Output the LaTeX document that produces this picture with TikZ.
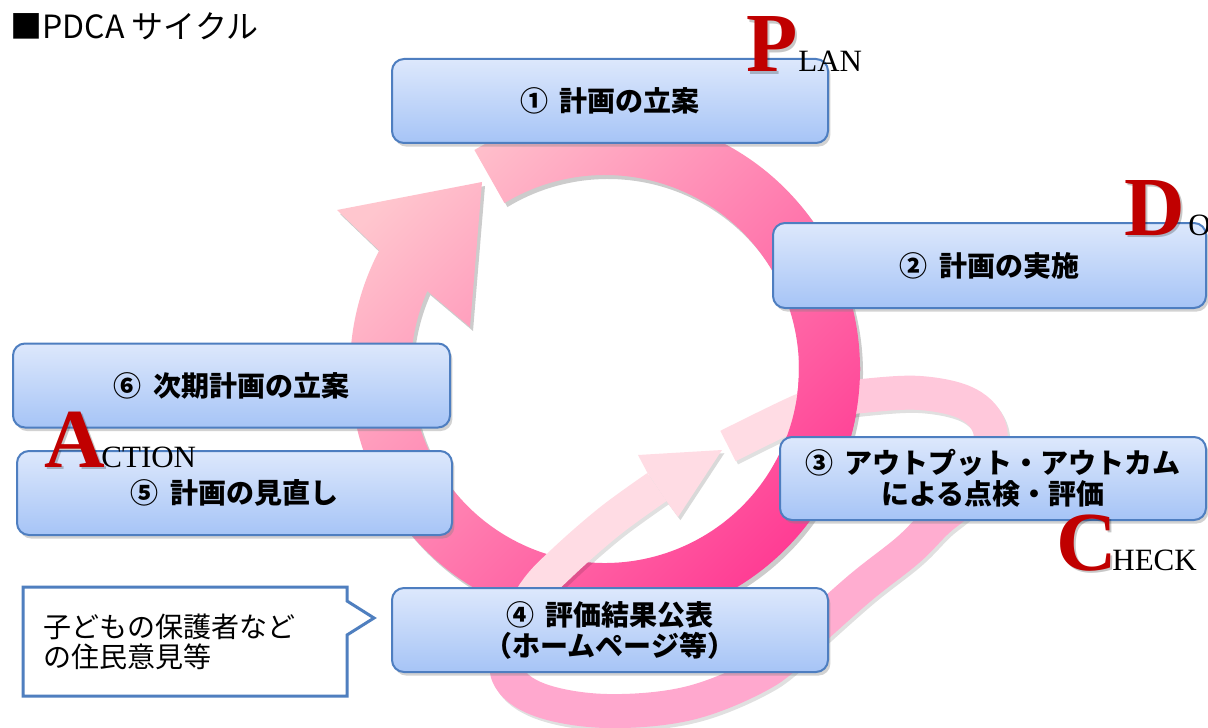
\documentclass[tikz,border=0pt]{standalone}
\usepackage{fontspec}
\newfontfamily\jpfont{Noto Sans CJK JP}
\newfontfamily\pdcafont{Liberation Serif}
\usetikzlibrary{shadows}
\definecolor{boxtop}{HTML}{DDE8FC}
\definecolor{boxbot}{HTML}{A6C4F6}
\definecolor{boxline}{HTML}{4E7EC0}
\definecolor{ringlight}{HTML}{FFC6CE}
\definecolor{ringdark}{HTML}{FF3390}
\definecolor{loopA}{HTML}{FFDCE4}
\definecolor{loopB}{HTML}{FFC8DB}
\definecolor{loopC}{HTML}{FFADD0}
\definecolor{loopD}{HTML}{FFA8CE}
\definecolor{pdcared}{HTML}{C00000}
\definecolor{callline}{HTML}{4F7FBF}
\tikzset{
  stepbox/.style={draw=boxline, line width=1pt, rounded corners=6pt,
    top color=boxtop, bottom color=boxbot,
    minimum width=218pt, minimum height=42pt, align=center, inner sep=0pt,
    font=\jpfont\bfseries\fontsize{14}{15.5}\selectfont,
    drop shadow={shadow xshift=1.2pt, shadow yshift=-1.8pt, opacity=0.35}},
  bigletter/.style={font=\pdcafont\bfseries\fontsize{42}{42}\selectfont,
    text=pdcared, inner sep=0pt, anchor=base west},
  lettershade/.style={bigletter, text=black, text opacity=0.22, xshift=1.2pt, yshift=-1.4pt},
  smallletters/.style={font=\pdcafont\fontsize{15.5}{16}\selectfont,
    inner sep=0pt, anchor=base west},
  loopband/.style={line width=17pt, line cap=butt, line join=round},
  loopshadow/.style={loopband, black, opacity=0.12, xshift=1.2pt, yshift=-1.6pt},
}
\def\ringpath{(474.4,150) arc[start angle=-120.8, end angle=207.7, radius=255]
  -- (337,210) -- (482,182) -- (470,327) -- (427.3,291)
  arc[start angle=203.7, end angle=-121.2, radius=194] -- cycle}
\def\segA{(728,446) (800,411) (832,401)}
\def\segB{(832,401) (862,396) (920,393) (968,404) (990,430) (985,470)}
\def\segC{(985,470) (962,500) (937,521) (908,550) (860,588) (805,637)}
\def\segD{(805,637) (765,672) (690,703) (607,711) (540,700) (508,675) (512,635)}
\def\segE{(512,635) (535,592) (563,562) (610,521) (657,487)}
\def\loophead{(647,472) -- (638,455) -- (722,450) -- (678,517) -- (667,502) -- cycle}
\begin{document}
\begin{tikzpicture}[x=0.5pt, y=-0.5pt]
\useasboundingbox (0,0) rectangle (1208,727);
\fill[white] (0,0) rectangle (1208,727);

% main cycle ring
\fill[black, opacity=0.2, xshift=1.5pt, yshift=-2pt] \ringpath;
\shade[top color=ringlight, bottom color=ringdark, shading angle=45] \ringpath;

% secondary loop
\foreach \s in {\segA,\segB,\segC,\segD,\segE}{
  \draw[loopshadow] plot[smooth, tension=0.6] coordinates {\s};
}
\fill[black, opacity=0.15, xshift=1.2pt, yshift=-1.6pt] \loophead;
\draw[loopband, loopA] plot[smooth, tension=0.6] coordinates {\segA};
\draw[loopband, loopB] plot[smooth, tension=0.6] coordinates {\segB};
\draw[loopband, loopC] plot[smooth, tension=0.6] coordinates {\segC};
\draw[loopband, loopD] plot[smooth, tension=0.6] coordinates {\segD};
\draw[loopband, loopA] plot[smooth, tension=0.6] coordinates {\segE};
\fill[loopA] \loophead;

% ring passes over the loop on the right
\begin{scope}
  \clip (780,360) rectangle (880,445);
  \shade[top color=ringlight, bottom color=ringdark, shading angle=45] \ringpath;
\end{scope}

% step boxes
\node[stepbox] (b1) at (610,101) {①\hspace{.4em}計画の立案};
\node[stepbox, minimum width=216.5pt, minimum height=42.5pt] (b2) at (989.5,265.5) {②\hspace{.4em}計画の実施};
\node[stepbox, minimum width=213pt, minimum height=41.5pt] (b3) at (993,478.5) {③\hspace{.4em}アウトプット・アウトカム\\による点検・評価};
\node[stepbox] (b4) at (610,630) {④\hspace{.4em}評価結果公表\\（ホームページ等）};
\node[stepbox, minimum width=217.5pt] (b5) at (234.5,493) {⑤\hspace{.4em}計画の見直し};
\node[stepbox, minimum width=218.5pt] (b6) at (231.5,385.5) {⑥\hspace{.4em}次期計画の立案};

% callout
\draw[callline, line width=1.5pt, fill=white, line join=miter]
  (23,587) -- (347,587) -- (347,601) -- (374,618) -- (347,635) -- (347,696) -- (23,696) -- cycle;
\node[anchor=west, align=left, inner sep=0pt, font=\jpfont\fontsize{14}{15}\selectfont] (calltext) at (43,642) {子どもの保護者など\\の住民意見等};

% PDCA letters
\node[lettershade] (Ps) at (746,72) {P};
\node[bigletter] (P) at (746,72) {P};
\node[smallletters] (lan) at (798,72) {LAN};
\node[lettershade] (Ds) at (1124,235) {D};
\node[bigletter] (D) at (1124,235) {D};
\node[smallletters] (o) at (1188,235) {O};
\node[lettershade] (As) at (44,467) {A};
\node[bigletter] (A) at (44,467) {A};
\node[smallletters] (ction) at (101,467) {CTION};
\node[lettershade] (Cs) at (1056,570) {C};
\node[bigletter] (C) at (1056,570) {C};
\node[smallletters] (heck) at (1112,570) {HECK};

% title
\node[anchor=base west, inner sep=0pt, font=\jpfont\fontsize{16}{18}\selectfont] (title) at (10,39) {■PDCA サイクル};
\end{tikzpicture}
\end{document}
